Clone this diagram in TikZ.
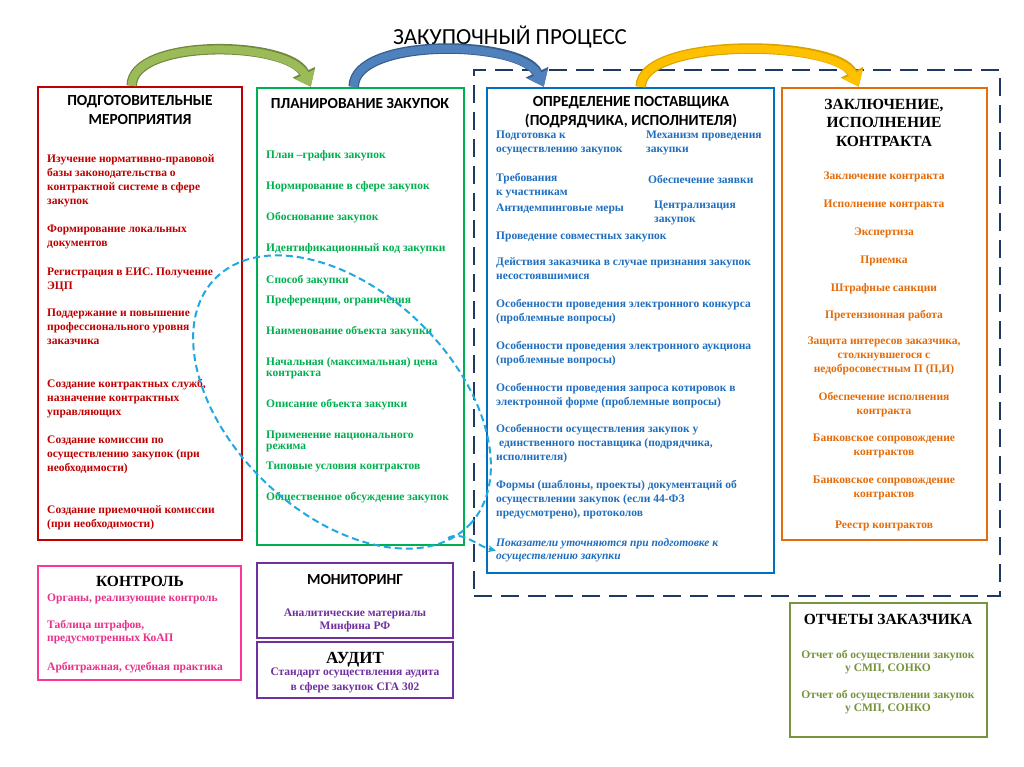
\documentclass[tikz,border=0pt]{standalone}
\usepackage{fontspec}
\setmainfont{Liberation Serif}
\newfontfamily\calibri{Carlito}
\usetikzlibrary{arrows.meta}

\definecolor{prepred}{HTML}{C00000}
\definecolor{plangreen}{HTML}{00B050}
\definecolor{suppblue}{HTML}{0070C0}
\definecolor{supptext}{HTML}{1F6FBF}
\definecolor{controrange}{HTML}{E46C0A}
\definecolor{framenavy}{HTML}{1F3864}
\definecolor{ctrlpink}{HTML}{FF3399}
\definecolor{ctrltext}{HTML}{E8318A}
\definecolor{monpurple}{HTML}{7030A0}
\definecolor{repolive}{HTML}{77933C}
\definecolor{ovalblue}{HTML}{1FA8E2}
\definecolor{arrgreen}{HTML}{9BBB59}
\definecolor{arrgreenline}{HTML}{71893F}
\definecolor{arrblue}{HTML}{4F81BD}
\definecolor{arrblueline}{HTML}{385D8A}
\definecolor{arryellow}{HTML}{FFC000}
\definecolor{arryellowline}{HTML}{D9A300}

\newcommand\bodyfont{\fontsize{11.5}{14}\selectfont\bfseries}
\newcommand\tightfont{\fontsize{11.5}{11}\selectfont\bfseries}
\newcommand\headfont{\calibri\fontsize{15.4}{18.5}\selectfont\bfseries}
\newcommand\serifhead{\fontsize{15.5}{18.5}\selectfont\bfseries}

\tikzset{
  box/.style={draw=#1, line width=2.5pt, inner sep=0pt},
  item/.style={anchor=north west, inner sep=0pt, align=left, font=\bodyfont,
    execute at begin node=\strut, yshift=5.8pt},
  itemc/.style={item, anchor=north, align=center},
  tight/.style={font=\tightfont, yshift=-2.1pt},
  head/.style={anchor=north, inner sep=0pt, align=center, font=\headfont,
    execute at begin node=\strut, yshift=6.4pt},
  shead/.style={head, font=\serifhead, yshift=-1pt},
  band/.style={line width=8pt, -{Triangle[width=21pt,length=14pt]}},
}

\begin{document}
\begin{tikzpicture}[x=1pt,y=-1pt]
\useasboundingbox[fill=white] (0,0) rectangle (1024,767);

% title
\node[head, font=\calibri\fontsize{23}{26}\selectfont, yshift=2.8pt] (title) at (510,35) {ЗАКУПОЧНЫЙ ПРОЦЕСС};

% frames
\node[box=framenavy, dash pattern=on 18pt off 9pt, minimum width=526pt, minimum height=526pt] (frame) at (737,333) {};
\node[box=prepred, minimum width=204pt, minimum height=453pt] (prep) at (140,313.5) {};
\node[box=plangreen, minimum width=207pt, minimum height=457pt] (plan) at (360.5,316.5) {};
\node[box=suppblue, minimum width=287pt, minimum height=485pt] (supp) at (630.5,330.5) {};
\node[box=controrange, minimum width=205pt, minimum height=452pt] (contr) at (884.5,314) {};
\node[box=ctrlpink, minimum width=203pt, minimum height=114pt] (ctrl) at (139.5,623) {};
\node[box=monpurple, minimum width=196pt, minimum height=75pt] (mon) at (355,600.5) {};
\node[box=monpurple, minimum width=196pt, minimum height=56pt] (aud) at (355,670) {};
\node[box=repolive, minimum width=197pt, minimum height=134pt] (rep) at (888.5,670) {};

% curved arrows between stages
\coordinate (ga) at ([xshift=95pt]prep.north west);
\coordinate (gb) at ([xshift=55pt]plan.north west);
\coordinate (ba) at ([xshift=98pt]plan.north west);
\coordinate (bb) at ([xshift=58pt]supp.north west);
\coordinate (ya) at ([xshift=155pt]supp.north west);
\coordinate (yb) at ([xshift=78pt]contr.north west);
\draw[band, draw=arrgreen, preaction={draw=arrgreenline, line width=10.5pt, -{Triangle[width=24pt,length=16pt]}}]
  (ga) .. controls +(0,-48) and +(-22,-46) .. (gb);
\draw[band, draw=arrblue, preaction={draw=arrblueline, line width=10.5pt, -{Triangle[width=24pt,length=16pt]}}]
  (ba) .. controls +(0,-50) and +(-22,-47) .. (bb);
\draw[band, draw=arryellow, preaction={draw=arryellowline, line width=10.5pt, -{Triangle[width=24pt,length=16pt]}}]
  (ya) .. controls +(0,-50) and +(-22,-47) .. (yb);

% preparation
\node[head] (prephd) at (140,102) {ПОДГОТОВИТЕЛЬНЫЕ\\МЕРОПРИЯТИЯ};
\node[item, prepred] (p1) at (47,160) {Изучение нормативно-правовой\\базы законодательства о\\контрактной системе в сфере\\закупок};
\node[item, prepred] (p2) at (47,231) {Формирование локальных\\документов};
\node[item, prepred] (p3) at (47,273) {Регистрация в ЕИС. Получение\\ЭЦП};
\node[item, prepred] (p4) at (47,315) {Поддержание и повышение\\профессионального уровня\\заказчика};
\node[item, prepred] (p5) at (47,385) {Создание контрактных служб,\\назначение контрактных\\управляющих};
\node[item, prepred] (p6) at (47,441) {Создание комиссии по\\осуществлению закупок (при\\необходимости)};
\node[item, prepred] (p7) at (47,511) {Создание приемочной комиссии\\(при необходимости)};

% planning
\node[head] (planhd) at (360,102) {ПЛАНИРОВАНИЕ ЗАКУПОК};
\node[item, plangreen] (l1) at (266,154) {План –график закупок};
\node[item, plangreen] (l2) at (266,185) {Нормирование в сфере закупок};
\node[item, plangreen] (l3) at (266,216) {Обоснование закупок};
\node[item, plangreen] (l4) at (266,247) {Идентификационный код закупки};
\node[item, plangreen] (l5) at (266,279) {Способ закупки};
\node[item, plangreen] (l6) at (266,299) {Преференции, ограничения};
\node[item, plangreen] (l7) at (266,330) {Наименование объекта закупки};
\node[item, tight, plangreen] (l8) at (266,361) {Начальная (максимальная) цена\\контракта};
\node[item, plangreen] (l9) at (266,403) {Описание объекта закупки};
\node[item, tight, plangreen] (l10) at (266,434) {Применение национального\\режима};
\node[item, plangreen] (l11) at (266,465) {Типовые условия контрактов};
\node[item, plangreen] (l12) at (266,496) {Общественное обсуждение закупок};

% supplier
\node[head] (supphd) at (631,103) {ОПРЕДЕЛЕНИЕ ПОСТАВЩИКА\\(ПОДРЯДЧИКА, ИСПОЛНИТЕЛЯ)};
\node[item, supptext] (s1) at (496,137) {Подготовка к\\осуществлению закупок};
\node[item, supptext] (s2) at (646,137) {Механизм проведения\\закупки};
\node[item, supptext] (s3) at (496,179) {Требования\\к участникам};
\node[item, supptext] (s4) at (648,179) {Обеспечение заявки};
\node[item, supptext] (s5) at (496,207) {Антидемпинговые меры};
\node[item, supptext] (s6) at (654,207) {Централизация\\закупок};
\node[item, supptext] (s7) at (496,235) {Проведение совместных закупок};
\node[item, supptext] (s8) at (496,263) {Действия заказчика в случае признания закупок\\несостоявшимися};
\node[item, supptext] (s9) at (496,305) {Особенности проведения электронного конкурса\\(проблемные вопросы)};
\node[item, supptext] (s10) at (496,347) {Особенности проведения электронного аукциона\\(проблемные вопросы)};
\node[item, supptext] (s11) at (496,389) {Особенности проведения запроса котировок в\\электронной форме (проблемные вопросы)};
\node[item, supptext] (s12) at (496,430) {Особенности осуществления закупок у\\\hspace{3pt}единственного поставщика (подрядчика,\\исполнителя)};
\node[item, supptext] (s13) at (496,486) {Формы (шаблоны, проекты) документаций об\\осуществлении закупок (если 44-ФЗ\\предусмотрено), протоколов};
\node[item, supptext, font=\fontsize{11.5}{13}\selectfont\bfseries\itshape, yshift=-0.7pt] (note) at (496,543) {Показатели уточняются при подготовке к\\осуществлению закупки};

% contract
\node[shead] (contrhd) at (884,104) {ЗАКЛЮЧЕНИЕ,\\ИСПОЛНЕНИЕ\\КОНТРАКТА};
\node[itemc, controrange] (c1) at (884,175) {Заключение контракта};
\node[itemc, controrange] (c2) at (884,203) {Исполнение контракта};
\node[itemc, controrange] (c3) at (884,231) {Экспертиза};
\node[itemc, controrange] (c4) at (884,259) {Приемка};
\node[itemc, controrange] (c5) at (884,287) {Штрафные санкции};
\node[itemc, controrange] (c6) at (884,314) {Претензионная работа};
\node[itemc, controrange] (c7) at (884,342) {Защита интересов заказчика,\\столкнувшегося с\\недобросовестным П (П,И)};
\node[itemc, controrange] (c8) at (884,398) {Обеспечение исполнения\\контракта};
\node[itemc, controrange] (c9) at (884,440) {Банковское сопровождение\\контрактов};
\node[itemc, controrange] (c10) at (884,482) {Банковское сопровождение\\контрактов};
\node[itemc, controrange] (c11) at (884,524) {Реестр контрактов};

% control, monitoring, audit, reports
\node[shead, yshift=2pt] (ctrlhd) at (140,581) {КОНТРОЛЬ};
\node[item, ctrltext] (k1) at (47,597) {Органы, реализующие контроль};
\node[item, ctrltext, font=\fontsize{11.5}{13}\selectfont\bfseries, yshift=-0.7pt] (k2) at (47,625) {Таблица штрафов,\\предусмотренных КоАП};
\node[item, ctrltext] (k3) at (47,666) {Арбитражная, судебная практика};
\node[head] (monhd) at (355,578) {МОНИТОРИНГ};
\node[itemc, monpurple, font=\fontsize{11.5}{13}\selectfont\bfseries, yshift=-0.7pt] (m1) at (355,614) {Аналитические материалы\\Минфина РФ};
\node[shead, font=\fontsize{17}{20}\selectfont\bfseries, yshift=2pt] (audhd) at (355,657) {АУДИТ};
\node[itemc, monpurple, font=\fontsize{11.5}{15}\selectfont\bfseries, yshift=0.7pt] (a1) at (355,674) {Стандарт осуществления аудита\\в сфере закупок СГА 302};
\node[shead, yshift=2pt] (rephd) at (888,619) {ОТЧЕТЫ ЗАКАЗЧИКА};
\node[itemc, repolive, font=\fontsize{11.5}{13}\selectfont\bfseries, yshift=-0.7pt] (r1) at (888,655) {Отчет об осуществлении закупок\\у СМП, СОНКО};
\node[itemc, repolive, font=\fontsize{11.5}{13}\selectfont\bfseries, yshift=-0.7pt] (r2) at (888,695) {Отчет об осуществлении закупок\\у СМП, СОНКО};

% highlight oval and pointer to the note
\coordinate (ovc) at (342,402);
\coordinate (ovend) at (448,538);
\draw[ovalblue, line width=2pt, dash pattern=on 7pt off 4pt, rotate around={-44:(ovc)}]
  (ovc) ellipse [x radius=177pt, y radius=111pt];
\draw[ovalblue, line width=2pt, dash pattern=on 7pt off 4pt, -{Stealth[length=8pt,width=7pt]}]
  (ovend) .. controls +(14,-8) and +(-18,-4) .. (note.west);
\end{tikzpicture}
\end{document}
